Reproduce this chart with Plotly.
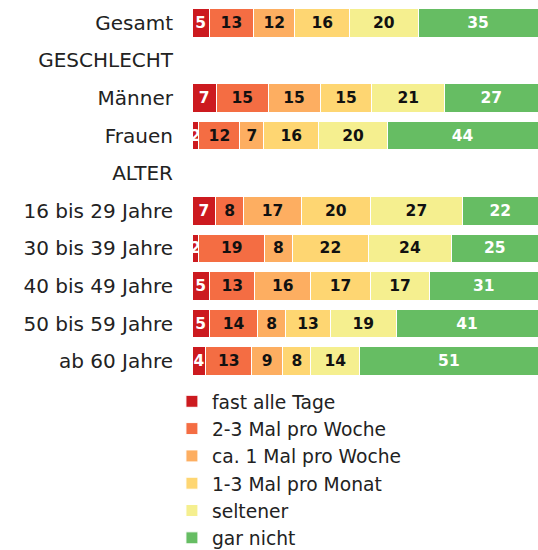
import plotly.graph_objects as go

categories = ["Gesamt", "GESCHLECHT", "Männer", "Frauen", "ALTER",
              "16 bis 29 Jahre", "30 bis 39 Jahre", "40 bis 49 Jahre",
              "50 bis 59 Jahre", "ab 60 Jahre"]
series_names = ["fast alle Tage", "2-3 Mal pro Woche", "ca. 1 Mal pro Woche",
                "1-3 Mal pro Monat", "seltener", "gar nicht"]
fast_alle_tage = [5, None, 7, 2, None, 7, 2, 5, 5, 4]
zwei_drei_woche = [13, None, 15, 12, None, 8, 19, 13, 14, 13]
ca_1_woche = [12, None, 15, 7, None, 17, 8, 16, 8, 9]
ein_drei_monat = [16, None, 15, 16, None, 20, 22, 17, 13, 8]
seltener = [20, None, 21, 20, None, 27, 24, 17, 19, 14]
gar_nicht = [35, None, 27, 44, None, 22, 25, 31, 41, 51]

series_values = [fast_alle_tage, zwei_drei_woche, ca_1_woche,
                 ein_drei_monat, seltener, gar_nicht]
colors = ["#cc1a1f", "#f46d43", "#fdae61", "#fed672", "#f5ef8f", "#66bd63"]
text_colors = ["white", "#111111", "#111111", "#111111", "#111111", "white"]

FONT = "DejaVu Sans"

fig = go.Figure()
for name, vals, col, tcol in zip(series_names, series_values, colors, text_colors):
    fig.add_trace(go.Bar(
        y=categories, x=vals, name=name, orientation="h",
        marker=dict(color=col, line=dict(color="white", width=1)),
        text=[("" if v is None else str(v)) for v in vals],
        texttemplate="%{text}",
        textposition="inside", insidetextanchor="middle",
        textangle=0, constraintext="none",
        textfont=dict(family=FONT, size=15.5, color=tcol, weight="bold"),
        hoverinfo="skip",
    ))

fig.update_layout(
    width=538, height=550,
    barmode="stack", barnorm="percent", bargap=0.24,
    margin=dict(l=192, r=0, t=4, b=170, autoexpand=False),
    plot_bgcolor="white", paper_bgcolor="white",
    font=dict(family=FONT, size=18, color="#222222"),
    uniformtext=dict(minsize=15, mode="show"),
    xaxis=dict(range=[0, 100], visible=False, fixedrange=True),
    yaxis=dict(categoryorder="array", categoryarray=categories,
               autorange="reversed", showgrid=False, zeroline=False,
               showline=False, ticks="", ticklabelstandoff=18,
               tickfont=dict(family=FONT, size=20, color="#222222")),
    legend=dict(orientation="v", x=-0.058, xanchor="left", y=-0.007, yanchor="top",
                traceorder="normal", font=dict(family=FONT, size=18.7, color="#222222"),
                bgcolor="rgba(0,0,0,0)", itemclick=False, itemdoubleclick=False),
    showlegend=True,
)

fig.write_html("out.html")
